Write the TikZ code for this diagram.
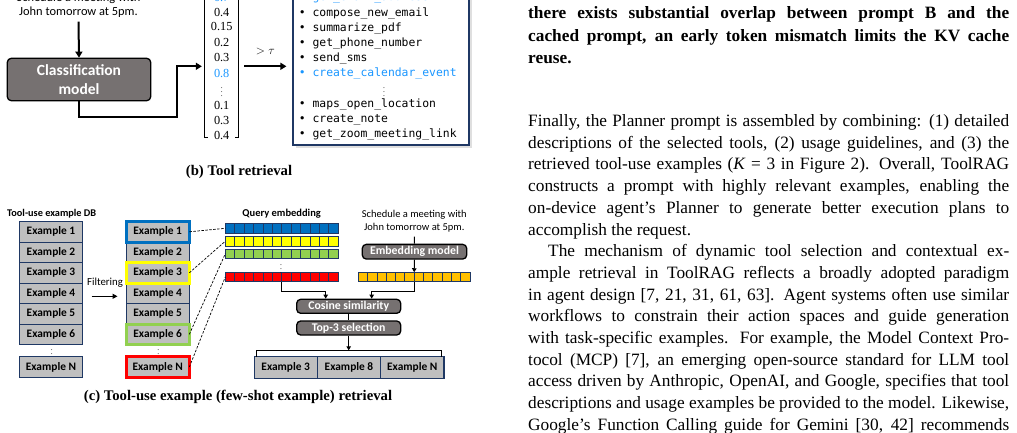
\documentclass[tikz,border=0pt]{standalone}
\usepackage{fontspec}
\setmainfont{Liberation Serif}
\newfontfamily\figsans{Carlito}
\newfontfamily\figmono{DejaVu Sans Mono}
\usetikzlibrary{arrows.meta, positioning, calc, shadows}
\definecolor{navy}{RGB}{31,56,100}
\definecolor{modelgrey}{RGB}{118,113,113}
\definecolor{exgrey}{RGB}{191,191,191}
\definecolor{hiblue}{RGB}{0,112,192}
\definecolor{hiyellow}{RGB}{255,255,0}
\definecolor{higreen}{RGB}{146,208,80}
\definecolor{hired}{RGB}{255,0,0}
\definecolor{horange}{RGB}{255,192,0}
\definecolor{selblue}{RGB}{25,150,255}

\begin{document}
\begin{tikzpicture}[x=1pt, y=-1pt,
  model/.style={draw=black, line width=1.3pt, rounded corners=4pt, fill=modelgrey, text=white, inner sep=0pt,
    font=\figsans\bfseries\fontsize{11.8}{14}\selectfont},
  exbox/.style={draw=navy, line width=1.1pt, fill=exgrey, minimum width=63.3pt, minimum height=20.5pt,
    inner sep=0pt, outer sep=0pt, font=\figsans\bfseries\fontsize{11.4}{13}\selectfont},
  hibox/.style={exbox, draw=#1, line width=3pt},
  bar/.style={draw=navy, line width=0.8pt, minimum width=113pt, minimum height=9.5pt, inner sep=0pt, outer sep=0pt},
  bigflow/.style={line width=2pt, -{Triangle[length=6pt, width=7pt]}},
  smallflow/.style={line width=1pt, -{Triangle[length=4pt, width=4.5pt]}},
  link/.style={line width=0.7pt, dash pattern=on 2.5pt off 1.5pt},
  num/.style={font=\fontsize{12.3}{14}\selectfont, inner sep=0pt, text height=8.4pt, text depth=0pt},
  tool/.style={anchor=west, font=\figmono\fontsize{11.4}{13}\selectfont, inner sep=0pt, text height=8.5pt, text depth=2.7pt},
  dots/.style={inner sep=0pt, font=\fontsize{7.5}{8}\selectfont},
  capt/.style={font=\bfseries\fontsize{14.7}{17}\selectfont, inner sep=0pt},
  note/.style={font=\figsans\fontsize{10.5}{13}\selectfont, align=center, inner sep=0pt},
  para/.style={anchor=base west, text width=481pt, align=justify, inner sep=0pt},
]
\useasboundingbox (0,0) rectangle (1017,432);

% (b) tool retrieval
\node[note, font=\figsans\fontsize{12.4}{14}\selectfont, anchor=south] (req1) at (78.5,18) {Schedule a meeting with\\John tomorrow at 5pm.};
\node[model, minimum width=143.4pt, minimum height=42.4pt, align=center,
  font=\figsans\bfseries\fontsize{15.5}{19}\selectfont] (cls) at (79,79.5) {Classification\\model};
\draw[bigflow] ([yshift=-3.7pt]req1.south) -- (cls.north);

% score vector
\node[minimum width=33.3pt, minimum height=142.8pt, inner sep=0pt] (vec) at (221.7,66.3) {};
\draw[line width=1pt] ([xshift=3.5pt]vec.north west) -- (vec.north west) -- (vec.south west) -- ([xshift=3.5pt]vec.south west);
\draw[line width=1pt] ([xshift=-3.5pt]vec.north east) -- (vec.north east) -- (vec.south east) -- ([xshift=-3.5pt]vec.south east);
\foreach \v/\yy/\c [count=\i] in {0.7/-2.3/selblue, 0.4/12.7/black, 0.15/26.7/black, 0.2/42.3/black, 0.3/57.7/black,
    0.8/73.3/selblue, 0.1/105.3/black, 0.3/120.3/black, 0.4/135.7/black}
  \node[num, text=\c] (v\i) at (221.7,\yy) {\v};
\node[dots] (vdots) at (221.7,89.3) {$\vdots$};
\draw[bigflow] (cls.south) -- ++(0,16) -| ([xshift=-28.3pt]vec.west) -- ([xshift=-3pt]vec.west);

% retrieved tools
\node[draw=navy, line width=1.8pt, fill=white, drop shadow={shadow xshift=3pt, shadow yshift=-3pt, opacity=0.25},
  minimum width=175.4pt, minimum height=175pt, inner sep=0pt] (tools) at (381,57.5) {};
\foreach \t/\yy/\c [count=\i] in {get\_email\_address/-2/selblue, compose\_new\_email/14/black,
    summarize\_pdf/29/black, get\_phone\_number/44/black, send\_sms/59/black,
    create\_calendar\_event/74/selblue, maps\_open\_location/105/black, create\_note/120/black,
    get\_zoom\_meeting\_link/135/black}
  \node[tool, text=\c] (t\i) at (298.6,\yy) {• \t};
\node[dots] (tdots) at (384,89.3) {$\vdots$};
\draw[bigflow] ([xshift=5.7pt]vec.east) -- ([xshift=-6pt]tools.west |- vec.east)
  node[midway, above=10pt, inner sep=0pt, font=\fontsize{13}{15}\selectfont] {$>\tau$};

\node[capt] (capb) at (239,172.3) {(b) Tool retrieval};

% (c) example retrieval
\node[font=\figsans\bfseries\fontsize{10.3}{12}\selectfont, inner sep=0pt] (dbtitle) at (51.7,214) {Tool-use example DB};
\foreach \i in {1,...,6}
  \node[exbox] (db\i) at (51,{211.3+20.5*\i}) {Example \i};
\node[dots] (dbdots) at (51.7,351.2) {$\vdots$};
\node[exbox] (dbN) at (51,367) {Example N};

\node[font=\figsans\fontsize{10.8}{12}\selectfont, inner sep=0pt] (filt) at (105,282.7) {Filtering};

\foreach \i in {2,4,5}
  \node[exbox] (f\i) at (157.7,{211.3+20.5*\i}) {Example \i};
\foreach \i/\c in {1/hiblue, 3/hiyellow, 6/higreen}
  \node[hibox=\c] (f\i) at (157.7,{211.3+20.5*\i}) {Example \i};
\node[dots] (fdots) at (158.3,351.2) {$\vdots$};
\node[hibox=hired] (fN) at (157.7,367) {Example N};
\draw[line width=1.2pt, -{Triangle[length=5pt, width=5pt]}] ([xshift=9pt, yshift=-3pt]db4.east) -- ([xshift=-8.5pt, yshift=-3pt]f4.west);

% query embeddings
\node[font=\figsans\bfseries\fontsize{10.5}{12}\selectfont, inner sep=0pt] (qtitle) at (281.7,214) {Query embedding};
\foreach \nm/\c/\yy in {qb/hiblue/228.3, qy/hiyellow/241.2, qg/higreen/253.7, qr/hired/277} {
  \node[bar, fill=\c] (\nm) at (281.8,\yy) {};
  \foreach \k in {1,...,11}
    \draw[navy, line width=0.8pt] ($(\nm.north west)!\k/12!(\nm.north east)$) -- ($(\nm.south west)!\k/12!(\nm.south east)$);
}
\node[dots] (qdots) at (281,266.2) {$\vdots$};

\draw[link] (f1.east) -- (qb.west);
\draw[link] (f3.east) -- (qy.west);
\draw[link] (f6.east) -- (qg.west);
\draw[link] (fN.east) -- (qr.west);

% request embedding
\node[note, anchor=south] (req2) at (414.3,232.7) {Schedule a meeting with\\John tomorrow at 5pm.};
\node[model, minimum width=104.4pt, minimum height=14.7pt] (emb) at (414.5,251.7) {Embedding model};
\node[bar, fill=horange, minimum width=111.7pt] (qo) at (414.2,277) {};
\foreach \k in {1,...,11}
  \draw[navy, line width=0.8pt] ($(qo.north west)!\k/12!(qo.north east)$) -- ($(qo.south west)!\k/12!(qo.south east)$);
\draw[line width=1pt] ([yshift=-4pt]req2.south) -- (emb.north);
\draw[smallflow] (emb.south) -- (qo.north);

% similarity and selection
\node[model, minimum width=104pt, minimum height=14pt] (cos) at (348.7,306.3) {Cosine similarity};
\node[model, minimum width=104pt, minimum height=14pt] (top) at (348.7,328) {Top-3 selection};
\draw[smallflow] (qr.south) -- ++(0,10) -| ([xshift=-23pt]cos.north);
\draw[smallflow] (qo.south) -- ++(0,10) -| ([xshift=23pt]cos.north);
\draw[line width=1pt] (cos.south) -- (top.north);

\node[exbox, minimum height=21.6pt] (r3) at (285.7,367.5) {Example 3};
\node[exbox, minimum height=21.6pt, right=0pt of r3] (r8) {Example 8};
\node[exbox, minimum height=21.6pt, right=0pt of r8] (rN) {Example N};
\coordinate (brk) at ($(r8.north)+(0,-6.4)$);
\draw[line width=0.8pt] ([xshift=2.7pt]r3.north west) -- ++(0,-6.4) -| ([xshift=-2.3pt]rN.north east);
\draw[smallflow] (top.south) -- (top.south |- brk);

\node[capt] (capc) at (238,396.7) {(c) Tool-use example (few-shot example) retrieval};

% running text
\node[para, font=\bfseries\fontsize{17.3}{22.5}\selectfont] (boldpar) at (528,18.5) {\tolerance=10000\hyphenpenalty=10000
there exists substantial overlap between prompt B and the\linebreak
cached prompt, an early token mismatch limits the KV cache\linebreak
reuse.};

\node[para, font=\fontsize{17.3}{21.7}\selectfont] (body) at (528,126.5) {\tolerance=10000\hyphenpenalty=10000
Finally, the Planner prompt is assembled by combining: (1) detailed\linebreak
descriptions of the selected tools, (2) usage guidelines, and (3) the\linebreak
retrieved tool-use examples (\textit{K} = 3 in Figure 2). Overall, ToolRAG\linebreak
constructs a prompt with highly relevant examples, enabling the\linebreak
on-device agent's Planner to generate better execution plans to\linebreak
accomplish the request.\par
\hspace*{20pt}The mechanism of dynamic tool selection and contextual ex-\linebreak
ample retrieval in ToolRAG reflects a broadly adopted paradigm\linebreak
in agent design [7, 21, 31, 61, 63]. Agent systems often use similar\linebreak
workflows to constrain their action spaces and guide generation\linebreak
with task-specific examples. For example, the Model Context Pro-\linebreak
tocol (MCP) [7], an emerging open-source standard for LLM tool\linebreak
access driven by Anthropic, OpenAI, and Google, specifies that tool\linebreak
descriptions and usage examples be provided to the model. Likewise,\linebreak
Google's Function Calling guide for Gemini [30, 42] recommends{\parfillskip=0pt\par}};
\end{tikzpicture}
\end{document}
